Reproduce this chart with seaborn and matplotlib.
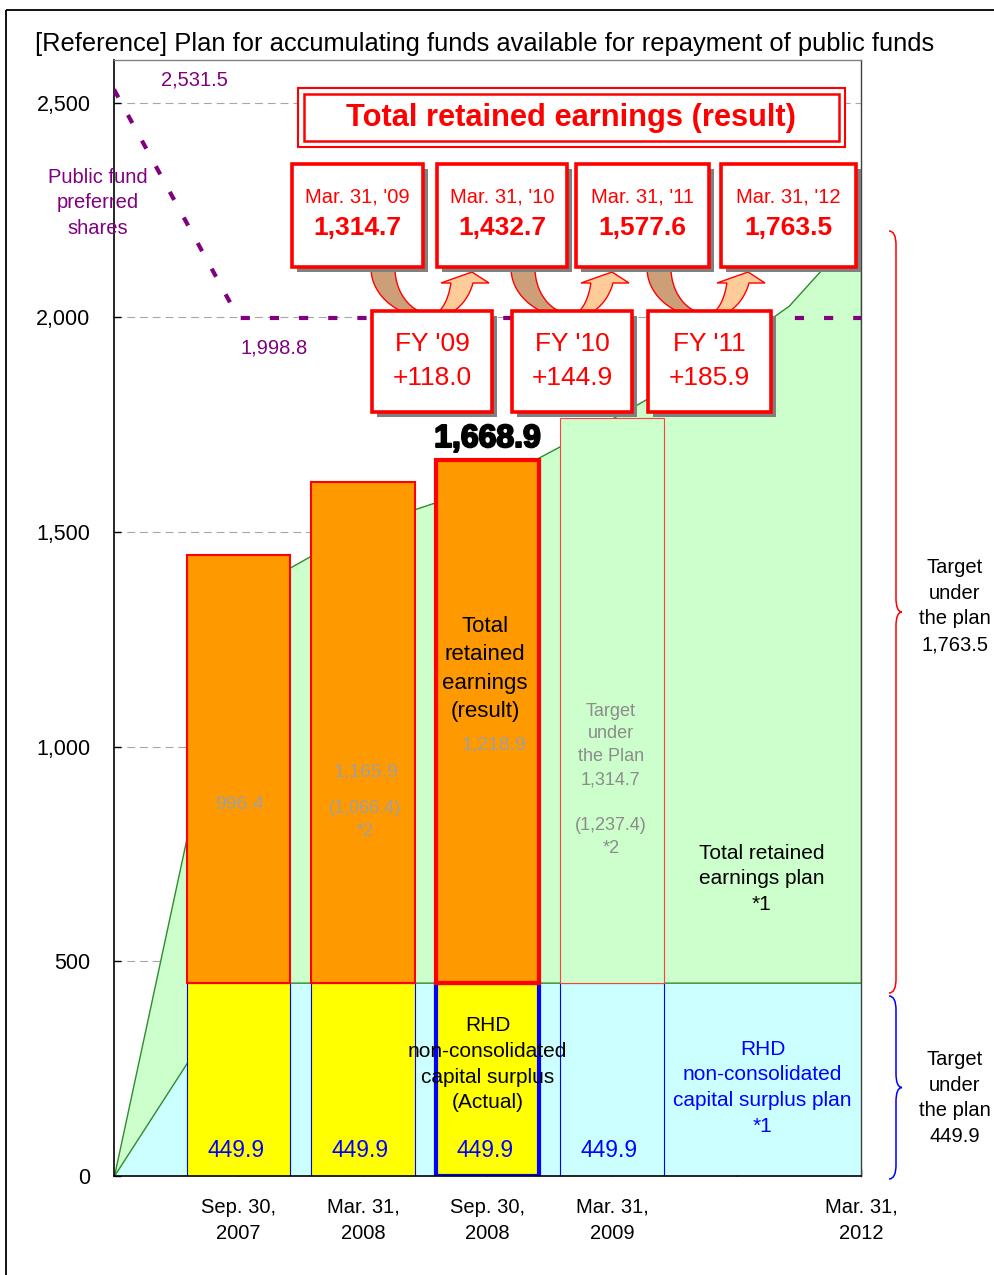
import numpy as np
import matplotlib
matplotlib.use('Agg')
import matplotlib.pyplot as plt
import matplotlib.transforms as mtransforms
import matplotlib.patheffects as pe
from matplotlib.patches import Rectangle, Polygon, PathPatch
from matplotlib.path import Path
from matplotlib.ticker import FuncFormatter
import seaborn as sns

# ---- data ----
bar_x = [1, 2, 3]
capital_surplus = [449.9, 449.9, 449.9]
retained_result = [996.4, 1165.9, 1218.9]
result_total = 1668.9
adjusted_2008 = 1066.4
target_x = [4]
target_surplus = [449.9]
target_retained = [1314.7]
target_adjusted = 1237.4
plan_x = [0, 1, 2, 3, 4, 4.72, 5.42, 6]
plan_surplus = [0, 449.9, 449.9, 449.9, 449.9, 449.9, 449.9, 449.9]
plan_total = [0, 1350, 1513, 1610, 1764.6, 1882.6, 2027.5, 2213.4]
pref_x = [0, 1, 6]
pref_shares = [2531.5, 1998.8, 1998.8]
tick_x = [1, 2, 3, 4, 5, 6]
tick_labels = ['Sep. 30,\n2007', 'Mar. 31,\n2008', 'Sep. 30,\n2008',
               'Mar. 31,\n2009', '', 'Mar. 31,\n2012']
box_dates = ["Mar. 31, '09", "Mar. 31, '10", "Mar. 31, '11", "Mar. 31, '12"]
box_values = [1314.7, 1432.7, 1577.6, 1763.5]
fy_labels = ["FY '09", "FY '10", "FY '11"]
fy_increase = [118.0, 144.9, 185.9]

RED = '#FF0000'
BLUE = '#0000FF'
PURPLE = '#800080'
GRAY_TXT = '#A0A0A0'
LS = 1.45

sns.set_theme(style='white')
plt.rcParams['font.family'] = ['Liberation Sans', 'DejaVu Sans']

fig = plt.figure(figsize=(9.95, 12.75), dpi=100)
ax = fig.add_axes([114 / 995, 1 - 1175.7 / 1275, 747 / 995, 1115.7 / 1275])
# pixel coordinates (origin top-left) for the callout decorations
pix = mtransforms.Affine2D().scale(0.01, -0.01).translate(0, 12.75) + fig.dpi_scale_trans

# plan areas
ax.fill_between(plan_x, 0, plan_surplus, facecolor='#CCFFFF', edgecolor='none', zorder=1)
ax.fill_between(plan_x, plan_surplus, plan_total, facecolor='#CCFFCC',
                edgecolor='#2E8B2E', linewidth=1, zorder=1.2)

bar_kw = dict(native_scale=True, width=0.835, saturation=1, errorbar=None, ax=ax, zorder=2)
sns.barplot(x=target_x, y=target_surplus, color='#CCFFFF', edgecolor=BLUE, linewidth=0.8, **bar_kw)
sns.barplot(x=target_x, y=target_retained, bottom=target_surplus, color='#CCFFCC',
            edgecolor='#FF4040', linewidth=0.8, **bar_kw)
sns.barplot(x=bar_x, y=capital_surplus, color='#FFFF00', edgecolor=BLUE, linewidth=0.8, **bar_kw)
ax.containers[-1].patches[2].set_linewidth(3)
sns.barplot(x=bar_x, y=retained_result, bottom=capital_surplus, color='#FF9900',
            edgecolor=RED, linewidth=1.5, **bar_kw)
ax.containers[-1].patches[2].set_linewidth(3)

# public fund preferred shares
sns.lineplot(x=pref_x, y=pref_shares, color=PURPLE, linewidth=3,
             linestyle=(0, (2.2, 4.8)), ax=ax, zorder=4)

ax.set_xlim(0, 6)
ax.set_ylim(0, 2600)
ax.set_xlabel('')
ax.set_ylabel('')
ax.set_yticks([0, 500, 1000, 1500, 2000, 2500])
ax.yaxis.set_major_formatter(FuncFormatter(lambda v, p: f'{v:,.0f}'))
ax.set_xticks(tick_x)
ax.set_xticklabels(tick_labels, linespacing=LS)
ax.tick_params(axis='y', direction='in', length=5, width=1, pad=17, labelsize=15.5,
               left=True, colors='black')
ax.tick_params(axis='x', direction='in', length=5, width=1, pad=16, labelsize=14.5,
               bottom=True, colors='black')
ax.yaxis.grid(True, color='#A6A6A6', linestyle=(0, (7, 4.5)), linewidth=0.8)
ax.xaxis.grid(False)
ax.set_axisbelow(True)
for side in ['left', 'bottom']:
    ax.spines[side].set_color('black')
    ax.spines[side].set_linewidth(1.2)
ax.spines['top'].set_color('#808080')
ax.spines['top'].set_linewidth(1)
ax.spines['right'].set_color('#404040')
ax.spines['right'].set_linewidth(1)

# labels inside the plot
ax.text(0.65, 2554, f'{pref_shares[0]:,.1f}', color=PURPLE, fontsize=14.5, ha='center', va='center')
ax.text(1.29, 1929, f'{pref_shares[1]:,.1f}', color=PURPLE, fontsize=14.5, ha='center', va='center')
ax.text(-0.13, 2267, 'Public fund\npreferred\nshares', color=PURPLE, fontsize=14.5,
        ha='center', va='center', linespacing=LS, clip_on=False, zorder=6)

for x, v in zip(bar_x + target_x, capital_surplus + target_surplus):
    ax.text(x - 0.02, 58, f'{v:,.1f}', color=BLUE, fontsize=16.5, ha='center', va='center', zorder=6)

ax.text(1.01, 866, f'{retained_result[0]:,.1f}', color=GRAY_TXT, fontsize=14, ha='center', va='center', zorder=6)
ax.text(2.02, 941, f'{retained_result[1]:,.1f}', color=GRAY_TXT, fontsize=14, ha='center', va='center', zorder=6)
ax.text(2.02, 829, f'({adjusted_2008:,.1f})\n*2', color=GRAY_TXT, fontsize=13, ha='center',
        va='center', linespacing=LS, zorder=6)
ax.text(3.05, 1004, f'{retained_result[2]:,.1f}', color=GRAY_TXT, fontsize=14, ha='center', va='center', zorder=6)
ax.text(2.98, 1181, 'Total\nretained\nearnings\n(result)', color='black', fontsize=16,
        ha='center', va='center', linespacing=LS, zorder=6)
ax.annotate(f'{result_total:,.1f}', xy=(3, result_total),
            xytext=(0, 4), textcoords='offset points', ha='center', va='bottom',
            fontsize=23, fontweight='bold', color='black', zorder=6,
            path_effects=[pe.withStroke(linewidth=1.5, foreground='black')])
ax.text(3.99, 923, f'Target\nunder\nthe Plan\n{target_retained[0]:,.1f}\n\n({target_adjusted:,.1f})\n*2',
        color='#8C8C8C', fontsize=13, ha='center', va='center', linespacing=LS, zorder=6)
ax.text(5.2, 692, 'Total retained\nearnings plan\n*1', color='black', fontsize=15,
        ha='center', va='center', linespacing=LS, zorder=6)
ax.text(3.0, 260, 'RHD\nnon-consolidated\ncapital surplus\n(Actual)', color='black', fontsize=15,
        ha='center', va='center', linespacing=LS, zorder=6)
ax.text(5.21, 205, 'RHD\nnon-consolidated\ncapital surplus plan\n*1', color=BLUE, fontsize=15,
        ha='center', va='center', linespacing=LS, zorder=6)

# ---- callouts (figure pixel layout) ----
def add(p):
    p.set_transform(pix)
    p.set_clip_on(False)
    fig.add_artist(p)


def shadow_box(x0, y0, x1, y1, z):
    add(Rectangle((x0 + 5, y0 + 5), x1 - x0, y1 - y0, facecolor='#808080', edgecolor='none', zorder=z))
    add(Rectangle((x0, y0), x1 - x0, y1 - y0, facecolor='white', edgecolor=RED, linewidth=2.6, zorder=z + 0.1))


def uturn(left):
    cx, cy = left + 60, 268
    t = np.radians(np.linspace(180, 90, 40))
    outer = np.c_[cx + 61 * np.cos(t), cy + 50 * np.sin(t)]
    inner = np.c_[cx + 37 * np.cos(t[::-1]), cy + 46 * np.sin(t[::-1])]
    add(Polygon(np.vstack([outer, inner]), closed=True, facecolor='#CC9F78', edgecolor=RED,
                linewidth=1, zorder=5))
    to = np.radians(np.linspace(90, np.degrees(np.arcsin(0.3)), 40))
    ti = np.radians(np.linspace(np.degrees(np.arcsin(15 / 46)), 90, 40))
    outer = np.c_[cx + 43 * np.cos(to), cy + 50 * np.sin(to)]
    inner = np.c_[cx + 20 * np.cos(ti), cy + 46 * np.sin(ti)]
    head = np.array([[cx + 57, 283], [cx + 40, 272], [cx + 9, 283]])
    add(Polygon(np.vstack([outer, head, inner]), closed=True, facecolor='#FFCC99', edgecolor=RED,
                linewidth=1, zorder=5))


def brace(x0, y0, y1, color):
    ym = (y0 + y1) / 2
    r = 14
    verts = [(x0, y0), (x0 + 7, y0), (x0 + 7, y0 + r),
             (x0 + 7, ym - r), (x0 + 7, ym), (x0 + 13, ym),
             (x0 + 7, ym), (x0 + 7, ym + r),
             (x0 + 7, y1 - r), (x0 + 7, y1), (x0, y1)]
    codes = [Path.MOVETO, Path.CURVE3, Path.CURVE3, Path.LINETO, Path.CURVE3, Path.CURVE3,
             Path.CURVE3, Path.CURVE3, Path.LINETO, Path.CURVE3, Path.CURVE3]
    add(PathPatch(Path(verts, codes), facecolor='none', edgecolor=color, linewidth=1.1, zorder=5))


date_box_x = [(292, 423), (437, 567), (576, 709), (721, 856)]
fy_box_x = [(372, 492), (512, 632), (648, 771)]

for x0, x1 in fy_box_x:
    uturn(x0)

for (x0, x1), d, v in zip(date_box_x, box_dates, box_values):
    shadow_box(x0, 164, x1, 267, 6)
    xc = (x0 + x1) / 2
    fig.text(xc, 197, d, transform=pix, color=RED, fontsize=14.5, ha='center', va='center', zorder=7)
    fig.text(xc, 228, f'{v:,.1f}', transform=pix, color=RED, fontsize=19, fontweight='bold',
             ha='center', va='center', zorder=7)

for (x0, x1), lab, inc in zip(fy_box_x, fy_labels, fy_increase):
    shadow_box(x0, 311, x1, 412, 8)
    xc = (x0 + x1) / 2
    fig.text(xc, 344, lab, transform=pix, color=RED, fontsize=19, ha='center', va='center', zorder=9)
    fig.text(xc, 378, f'+{inc:,.1f}', transform=pix, color=RED, fontsize=19, ha='center', va='center', zorder=9)

# header box (double border)
add(Rectangle((298, 88), 547, 59, facecolor='white', edgecolor=RED, linewidth=1.5, zorder=6))
add(Rectangle((304, 94), 535, 47, facecolor='none', edgecolor=RED, linewidth=1.8, zorder=6.1))
fig.text(571, 118, 'Total retained earnings (result)', transform=pix, color=RED, fontsize=22.2,
         fontweight='bold', ha='center', va='center', zorder=7)

# braces on the right
brace(889, 231, 993, RED)
brace(889, 996, 1179, BLUE)
fig.text(955, 606, f'Target\nunder\nthe plan\n{box_values[-1]:,.1f}', transform=pix, fontsize=14.5,
         ha='center', va='center', linespacing=LS, color='black')
fig.text(955, 1098, f'Target\nunder\nthe plan\n{target_surplus[0]:,.1f}', transform=pix, fontsize=14.5,
         ha='center', va='center', linespacing=LS, color='black')

# title and outer frame
fig.text(35, 44, '[Reference] Plan for accumulating funds available for repayment of public funds',
         transform=pix, fontsize=18.4, ha='left', va='center', color='black')
add(Rectangle((6, 10), 1000, 1280, facecolor='none', edgecolor='black', linewidth=1.3, zorder=1))

fig.savefig('out.png', dpi=100)
